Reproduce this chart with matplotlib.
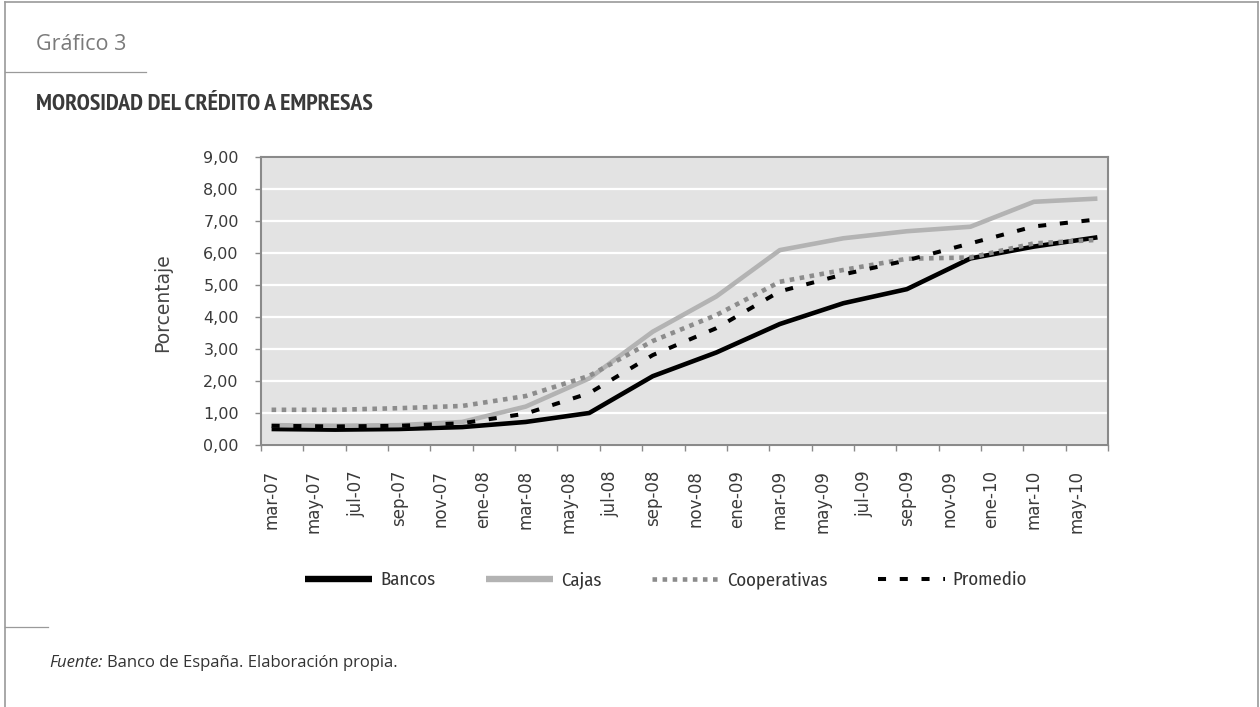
import matplotlib
matplotlib.use('Agg')
import matplotlib.pyplot as plt
from matplotlib.lines import Line2D

# Monthly category axis, mar-07 .. jun-10
nombres_mes = ['ene', 'feb', 'mar', 'abr', 'may', 'jun', 'jul', 'ago', 'sep', 'oct', 'nov', 'dic']
meses = [f'{m}-{a:02d}' for a in (7, 8, 9, 10) for m in nombres_mes]
meses = meses[meses.index('mar-07'):meses.index('jun-10') + 1]

# Quarterly observations (%)
trimestres = ['mar-07', 'jun-07', 'sep-07', 'dic-07', 'mar-08', 'jun-08', 'sep-08',
              'dic-08', 'mar-09', 'jun-09', 'sep-09', 'dic-09', 'mar-10', 'jun-10']
bancos = [0.50, 0.48, 0.50, 0.56, 0.72, 1.00, 2.15, 2.89, 3.78, 4.43, 4.87, 5.83, 6.20, 6.49]
cajas = [0.62, 0.60, 0.62, 0.72, 1.20, 2.08, 3.54, 4.64, 6.09, 6.46, 6.68, 6.82, 7.60, 7.70]
cooperativas = [1.10, 1.10, 1.15, 1.22, 1.53, 2.16, 3.25, 4.06, 5.10, 5.47, 5.82, 5.86, 6.30, 6.41]
promedio = [0.60, 0.58, 0.60, 0.68, 0.98, 1.62, 2.81, 3.65, 4.80, 5.33, 5.77, 6.30, 6.83, 7.05]

W, H = 1260, 707
fig = plt.figure(figsize=(W / 100, H / 100), dpi=100)
fig.patch.set_facecolor('white')

eje = ['DejaVu Sans']
cond = ['Fira Sans Condensed', 'DejaVu Sans']
estrecha = ['PT Sans Narrow', 'Fira Sans Condensed', 'DejaVu Sans']
texto = ['Open Sans', 'DejaVu Sans']


def fx(px):
    return px / W


def fy(py):
    return 1 - py / H


ax = fig.add_axes([fx(261), fy(445), fx(1108) - fx(261), fy(157) - fy(445)])
ax.set_facecolor('#e3e3e3')

x = [meses.index(t) for t in trimestres]
lw = 3.3
ax.plot(x, bancos, color='black', lw=lw, solid_capstyle='butt', label='Bancos')
ax.plot(x, cajas, color='#b3b3b3', lw=lw, solid_capstyle='butt', label='Cajas')
ax.plot(x, cooperativas, color='#8c8c8c', lw=lw, linestyle=(0, (1.0, 1.2)),
        dash_capstyle='butt', label='Cooperativas')
ax.plot(x, promedio, color='black', lw=2.9, linestyle=(0, (2.0, 3.4)),
        dash_capstyle='butt', label='Promedio')

ax.set_xlim(-0.5, len(meses) - 0.5)
ax.set_ylim(0, 9)
ax.set_yticks(range(10))
ax.set_yticklabels([f'{v:.2f}'.replace('.', ',') for v in range(10)], family=eje)
ax.yaxis.grid(True, color='white', lw=1.6)
ax.set_axisbelow(True)

ax.set_xticks(range(0, len(meses), 2))
ax.set_xticklabels(meses[::2], rotation=90, family=eje)
ax.set_xticks([i - 0.5 for i in range(0, len(meses) + 1, 2)], minor=True)

for s in ax.spines.values():
    s.set_color('#8a8a8a')
    s.set_linewidth(1.5)

ax.tick_params(axis='y', length=4, width=1, color='#8a8a8a', pad=12,
               labelsize=11.5, labelcolor='#3a3a3a')
ax.tick_params(axis='x', which='major', length=0, pad=18, labelsize=12,
               labelcolor='#3a3a3a')
ax.tick_params(axis='x', which='minor', length=4, width=1, color='#8a8a8a')

fig.text(fx(163), fy(303), 'Porcentaje', rotation=90, ha='center', va='center',
         family=eje, fontsize=13.5, color='#444444')

leg = fig.legend(loc='center', bbox_to_anchor=(fx(666), fy(580)), ncol=4, frameon=False,
                 handlelength=3.6, handletextpad=0.4, columnspacing=2.7,
                 prop={'family': cond, 'size': 13.5}, labelcolor='#333333')
for linea in leg.get_lines()[:2]:
    linea.set_linewidth(4.6)

# frame and separators
gris = '#9a9a9a'
for xs, ys, w in [((5, 1258), (2, 2), 1.2), ((5, 5), (2, 707), 1.2),
                  ((1258, 1258), (2, 707), 1.2), ((5, 146), (72, 72), 0.9),
                  ((5, 48), (627, 627), 0.9)]:
    fig.add_artist(Line2D([fx(xs[0]), fx(xs[1])], [fy(ys[0]), fy(ys[1])],
                          transform=fig.transFigure, color=gris, lw=w))

fig.text(fx(36), fy(50), 'Gráfico 3', ha='left', va='baseline',
         family=texto, fontsize=15.5, color='#7a7a7a')
titulo = fig.text(fx(36), fy(110), 'MOROSIDAD DEL CRÉDITO A EMPRESAS', ha='left',
                  va='baseline', family=estrecha, fontweight='bold',
                  fontsize=18, color='#3a3a3a')

fuente = fig.text(fx(49), fy(667), 'Fuente:', ha='left', va='baseline',
                  family=texto, style='italic', fontsize=12, color='#333333')
fig.canvas.draw()
# title spans up to x=373
ancho = titulo.get_window_extent().width
titulo.set_fontsize(18 * (373 - 36) / ancho)
bb = fuente.get_window_extent()
fig.text((bb.x1 + 5) / W, fy(667), 'Banco de España. Elaboración propia.',
         ha='left', va='baseline', family=texto, fontsize=12, color='#333333')

fig.savefig('out.png', dpi=100)
